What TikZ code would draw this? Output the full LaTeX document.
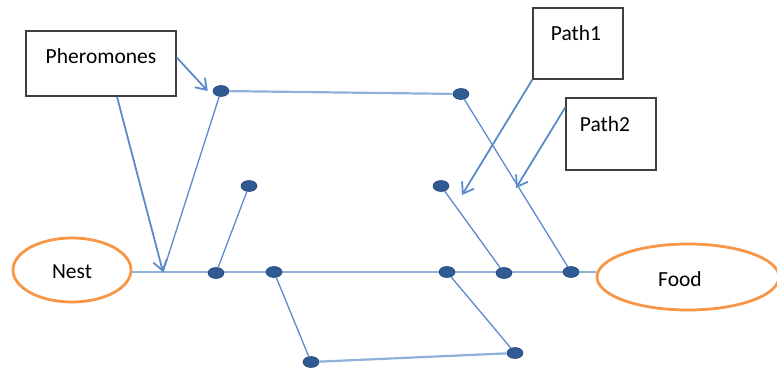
\documentclass[tikz,border=0pt]{standalone}
\usepackage{fontspec}
\setmainfont{Carlito}
\usetikzlibrary{arrows.meta,shapes.geometric}
\definecolor{mainln}{HTML}{8EB1DC}
\definecolor{thinln}{HTML}{5B8ACB}
\definecolor{dotc}{HTML}{2F5A93}
\definecolor{orng}{HTML}{F79646}
\definecolor{boxc}{HTML}{3F3F3F}
\tikzset{
  dot/.style={ellipse,fill=dotc,draw=dotc!80!black,line width=0.6pt,minimum width=16pt,minimum height=11pt,inner sep=0pt},
  place/.style={ellipse,draw=orng,line width=2.8pt,inner sep=0pt},
  lbox/.style={draw=boxc,line width=1.4pt,inner sep=0pt},
  lbl/.style={font=\fontsize{21.5}{24}\selectfont,inner sep=0pt},
  thick line/.style={draw=mainln,line width=2.6pt},
  mid line/.style={draw=mainln,line width=2.2pt},
  thin line/.style={draw=thinln,line width=1.3pt},
  ptr/.style={draw=thinln,line width=1.8pt,-{Straight Barb[length=10pt,width=14pt,line width=1.8pt]}}
}
\begin{document}
\begin{tikzpicture}[x=1pt,y=-1pt]
\useasboundingbox (0,0) rectangle (777,372);
% places
\node[place,minimum width=118pt,minimum height=64pt] (nest) at (72,270) {};
\node[lbl] at (72,272) {Nest};
\node[place,minimum width=182pt,minimum height=66pt] (food) at (688,277) {};
\node[lbl] at (680,279) {Food};
% label boxes
\node[lbox,minimum width=150pt,minimum height=65pt] (ph) at (101,63.5) {};
\node[lbl] (pht) at (101,56) {Pheromones};
\node[lbox,minimum width=90pt,minimum height=71pt] (p1) at (578,43.5) {};
\node[lbl] (p1t) at (576,33) {Path1};
\node[lbox,minimum width=90pt,minimum height=72pt] (p2) at (611,134) {};
\node[lbl] (p2t) at (605,124) {Path2};
% junction / arrow ends
\coordinate (j) at (163,272);
\coordinate (t1) at (462,195);
\coordinate (t2) at (516,188);
% main line
\draw[thick line] (j -| nest.east) -- (j -| food.west);
% dots
\node[dot] (A) at (221,91) {};
\node[dot] (B) at (461,94) {};
\node[dot] (C) at (249,186) {};
\node[dot] (D) at (441,186) {};
\node[dot] (E) at (216,273) {};
\node[dot] (F) at (274,272) {};
\node[dot] (G) at (447,272) {};
\node[dot] (H) at (504,273) {};
\node[dot] (I) at (571,272) {};
\node[dot] (J) at (311,362) {};
\node[dot] (K) at (515,353) {};
% paths
\draw[mid line] (A) -- (B);
\draw[thin line] (A) -- (j);
\draw[thin line] (B) -- (I);
\draw[thin line] (C) -- (E);
\draw[thin line] (D) -- (H);
\draw[thin line] (F) -- (J);
\draw[mid line] (J) -- (K);
\draw[thin line] (K) -- (G);
% pointers
\draw[ptr] ([xshift=16pt]ph.south) -- (j);
\draw[ptr] ([yshift=6pt]ph.east) -- ([xshift=-5pt]A.west);
\draw[ptr] (p1.south west) -- (t1);
\draw[ptr] ([yshift=-10pt]p2.north west) -- (t2);
\end{tikzpicture}
\end{document}
